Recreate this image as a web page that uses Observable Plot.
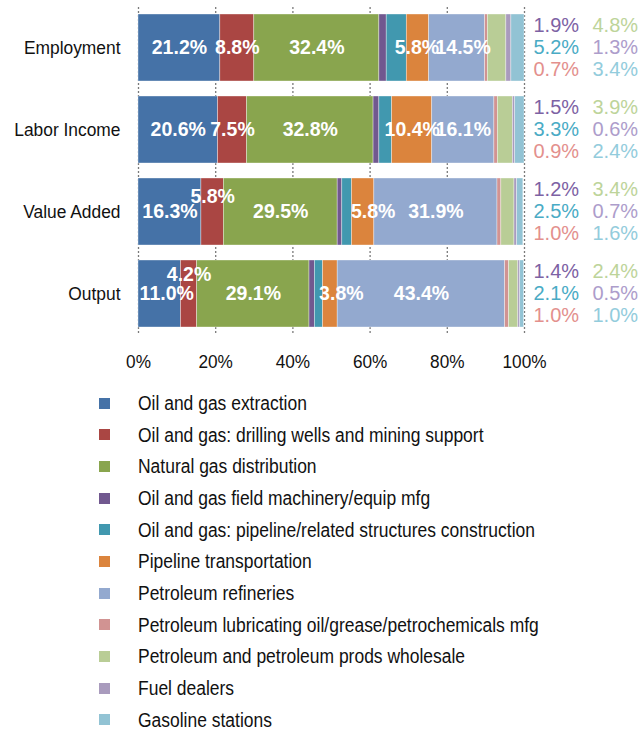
<!DOCTYPE html>
<html><head><meta charset="utf-8">
<script src="https://cdn.jsdelivr.net/npm/d3@7"></script>
<script src="https://cdn.jsdelivr.net/npm/@observablehq/plot@0.6"></script>
<style>
body{margin:0;background:#fff;font-family:"Liberation Sans",Arial,sans-serif;}
#chart{position:relative;width:644px;}
#legend{padding-top:7px;}
.row{height:31.7px;position:relative;}
.sw{position:absolute;left:99px;top:10.5px;width:11px;height:11px;}
.lb{position:absolute;left:138px;top:50%;font-size:20px;line-height:20px;margin-top:-10px;transform:scaleX(0.873);transform-origin:left center;white-space:nowrap;color:#111;}
</style></head><body><div id="chart"></div>
<script>
const categories = ["Employment", "Labor Income", "Value Added", "Output"];
const series = [
  "Oil and gas extraction",
  "Oil and gas: drilling wells and mining support",
  "Natural gas distribution",
  "Oil and gas field machinery/equip mfg",
  "Oil and gas: pipeline/related structures construction",
  "Pipeline transportation",
  "Petroleum refineries",
  "Petroleum lubricating oil/grease/petrochemicals mfg",
  "Petroleum and petroleum prods wholesale",
  "Fuel dealers",
  "Gasoline stations"
];
const employment  = [21.2, 8.8, 32.4, 1.9, 5.2, 5.8, 14.5, 0.7, 4.8, 1.3, 3.4];
const laborIncome = [20.6, 7.5, 32.8, 1.5, 3.3, 10.4, 16.1, 0.9, 3.9, 0.6, 2.4];
const valueAdded  = [16.3, 5.8, 29.5, 1.2, 2.5, 5.8, 31.9, 1.0, 3.4, 0.7, 1.6];
const output      = [11.0, 4.2, 29.1, 1.4, 2.1, 3.8, 43.4, 1.0, 2.4, 0.5, 1.0];
const colors = ["#4572A7", "#AA4643", "#89A54E", "#71588F", "#4198AF", "#DB843D",
                "#93A9CF", "#D19392", "#B9CD96", "#A99BBD", "#92C3D4"];
const sideColors = {3: "#7D62A4", 4: "#4AABC5", 7: "#E3908D", 8: "#BDD49A", 9: "#AD9DCB", 10: "#93CCDC"};
const tickValues = [0, 20, 40, 60, 80, 100];

const valuesByCategory = {
  "Employment": employment, "Labor Income": laborIncome,
  "Value Added": valueAdded, "Output": output
};
const rows = categories.flatMap(c => series.map((s, i) => ({category: c, series: s, idx: i, value: valuesByCategory[c][i]})));
const fmt = v => v.toFixed(1) + "%";

// label layout (inside bars)
const insideIdx = new Set([0, 1, 2, 5, 6]);
const specials = [
  {cat: "Value Added", idx: 1, dx: 0, dy: -15},
  {cat: "Output", idx: 1, dx: 0, dy: -19},
  {cat: "Value Added", idx: 5, dx: 10, dy: 0},
  {cat: "Output", idx: 5, dx: 11, dy: 0},
  {cat: "Output", idx: 0, dx: 7, dy: 0},
  {cat: "Employment", idx: 6, dx: 6, dy: 0},
  {cat: "Employment", idx: 5, dx: -1, dy: 0}
];
const isSpecial = d => specials.some(s => s.cat === d.category && s.idx === d.idx);

const insideStyle = {fill: "white", fontWeight: "bold", fontSize: 19.5, fontFamily: "Liberation Sans, Arial, sans-serif"};
const stackBase = {x: "value", y: "category", z: "series", order: series};

const marks = [
  Plot.gridX(tickValues, {stroke: "#7a7a7a", strokeOpacity: 1, strokeWidth: 1.3, strokeDasharray: "2,2"}),
  Plot.barX(rows, Plot.stackX({...stackBase, fill: "series", stroke: "white", strokeWidth: 0.6, strokeOpacity: 0.6})),
  Plot.axisX({ticks: tickValues, tickFormat: d => d + "%", tickSize: 0, tickPadding: 19, fontSize: 18.5, label: null}),
  Plot.axisY({tickSize: 0, tickPadding: 18, fontSize: 18.5, label: null}),
  Plot.text(rows, Plot.stackX({...stackBase, ...insideStyle, ariaLabel: "inside-labels",
    text: d => insideIdx.has(d.idx) && !isSpecial(d) ? fmt(d.value) : ""}))
];
for (const s of specials) {
  marks.push(Plot.text(rows, Plot.stackX({...stackBase, ...insideStyle, ariaLabel: "inside-labels",
    dx: s.dx, dy: s.dy,
    text: d => d.category === s.cat && d.idx === s.idx ? fmt(d.value) : ""})));
}
// side annotations: two columns, three rows each
const sideLayout = [
  {idx: 3, col: 0, row: -1}, {idx: 4, col: 0, row: 0}, {idx: 7, col: 0, row: 1},
  {idx: 8, col: 1, row: -1}, {idx: 9, col: 1, row: 0}, {idx: 10, col: 1, row: 1}
];
for (const s of sideLayout) {
  marks.push(Plot.text(rows, {
    filter: d => d.idx === s.idx,
    x: () => 100, y: "category", text: d => fmt(d.value),
    dx: s.col === 0 ? 9 : 68, dy: s.row * 22,
    textAnchor: "start", fill: sideColors[s.idx], fontSize: 20,
    fontFamily: "Liberation Sans, Arial, sans-serif", ariaLabel: "side-labels"
  }));
}

const chart = Plot.plot({
  width: 644, height: 380,
  marginLeft: 138, marginRight: 120, marginTop: 7, marginBottom: 45,
  style: {fontFamily: "Liberation Sans, Arial, sans-serif", color: "#111", background: "white"},
  x: {domain: [0, 100]},
  y: {domain: categories, paddingInner: 0.18, paddingOuter: 0.09},
  color: {domain: series, range: colors},
  marks
});

function squeeze(selector, sx) {
  chart.querySelectorAll(selector).forEach(t => {
    const tr = t.getAttribute("transform");
    if (tr) t.setAttribute("transform", tr + ` scale(${sx},1)`);
  });
}
squeeze('g[aria-label="inside-labels"] text', 0.86);
squeeze('g[aria-label="side-labels"] text', 0.82);
squeeze('g[aria-label="x-axis tick label"] text', 0.93);
squeeze('g[aria-label="y-axis tick label"] text', 0.94);

const root = document.getElementById("chart");
root.appendChild(chart);

const legend = document.createElement("div");
legend.id = "legend";
series.forEach((s, i) => {
  const r = document.createElement("div");
  r.className = "row";
  const sw = document.createElement("div");
  sw.className = "sw"; sw.style.background = colors[i];
  const lb = document.createElement("div");
  lb.className = "lb"; lb.textContent = s;
  r.appendChild(sw); r.appendChild(lb);
  legend.appendChild(r);
});
root.appendChild(legend);
</script>
</body></html>
